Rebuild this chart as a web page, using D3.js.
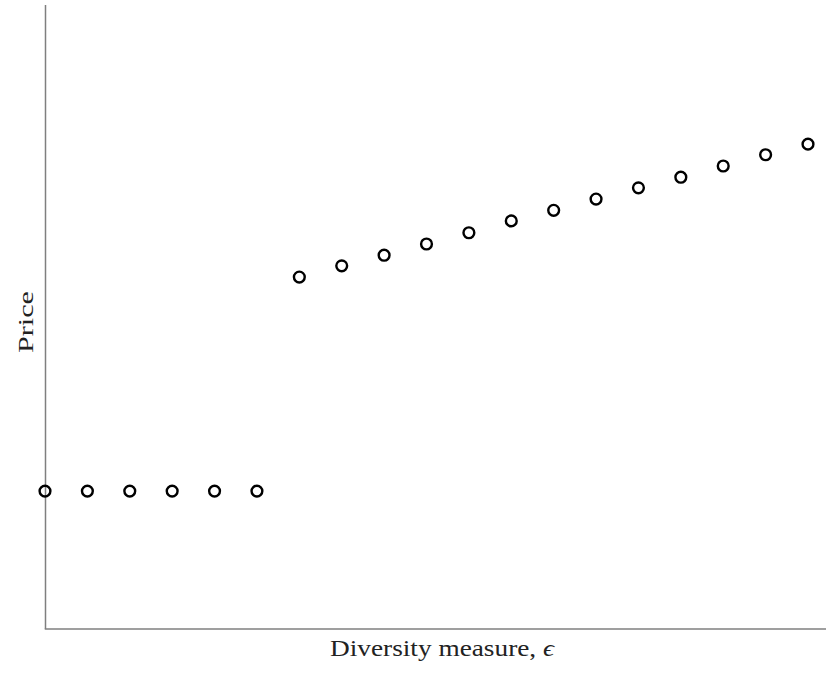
<!DOCTYPE html>
<html>
<head>
<meta charset="utf-8">
<script src="https://cdn.jsdelivr.net/npm/d3@7"></script>
<style>
  html, body { margin: 0; padding: 0; background: #fff; }
  svg { display: block; }
  text { font-family: "Liberation Serif", "DejaVu Serif", serif; fill: #222; }
</style>
</head>
<body>
<svg id="chart" width="827" height="673"></svg>
<script>
// Diversity measure ε (x) and resulting price (y, arbitrary units)
const epsilon = [0, 0.05, 0.10, 0.15, 0.20, 0.25, 0.30, 0.35, 0.40, 0.45,
                 0.50, 0.55, 0.60, 0.65, 0.70, 0.75, 0.80, 0.85, 0.90];
const price = [2.21, 2.21, 2.21, 2.21, 2.21, 2.21,
               5.64, 5.82, 5.99, 6.17, 6.35, 6.54, 6.71, 6.89, 7.07, 7.24, 7.42, 7.60, 7.77];
const xLabel = "Diversity measure, ";
const xSymbol = "\u03F5";
const yLabel = "Price";

const svg = d3.select("#chart");
const plotLeft = 45.5, plotRight = 826, plotTop = 5, plotBottom = 629;

const x = d3.scaleLinear().domain([0, 0.9]).range([45, 808]);
const y = d3.scaleLinear().domain([0, 10]).range([plotBottom, plotTop]);

// Axis spines (no ticks)
svg.append("line")
  .attr("x1", plotLeft).attr("x2", plotLeft)
  .attr("y1", plotTop).attr("y2", plotBottom)
  .attr("stroke", "#7f7f7f").attr("stroke-width", 1.5);
svg.append("line")
  .attr("x1", plotLeft - 0.75).attr("x2", plotRight)
  .attr("y1", plotBottom).attr("y2", plotBottom)
  .attr("stroke", "#7f7f7f").attr("stroke-width", 1.5);

// Hollow circle markers
const pts = epsilon.map((e, i) => ({ e, p: price[i] }));
svg.append("g").selectAll("circle")
  .data(pts)
  .join("circle")
  .attr("cx", d => x(d.e))
  .attr("cy", d => y(d.p))
  .attr("r", 5.4)
  .attr("fill", "none")
  .attr("stroke", "#000")
  .attr("stroke-width", 2.4);

// Axis labels
const xl = svg.append("text")
  .attr("x", 330)
  .attr("y", 656)
  .attr("font-size", 24)
  .attr("textLength", 224)
  .attr("lengthAdjust", "spacingAndGlyphs");
xl.append("tspan").text(xLabel);
xl.append("tspan").attr("font-style", "italic").text(xSymbol);

svg.append("text")
  .attr("transform", "translate(33," + 322 + ") rotate(-90)")
  .attr("text-anchor", "middle")
  .attr("font-size", 22)
  .attr("textLength", 62)
  .attr("lengthAdjust", "spacingAndGlyphs")
  .text(yLabel);
</script>
</body>
</html>
